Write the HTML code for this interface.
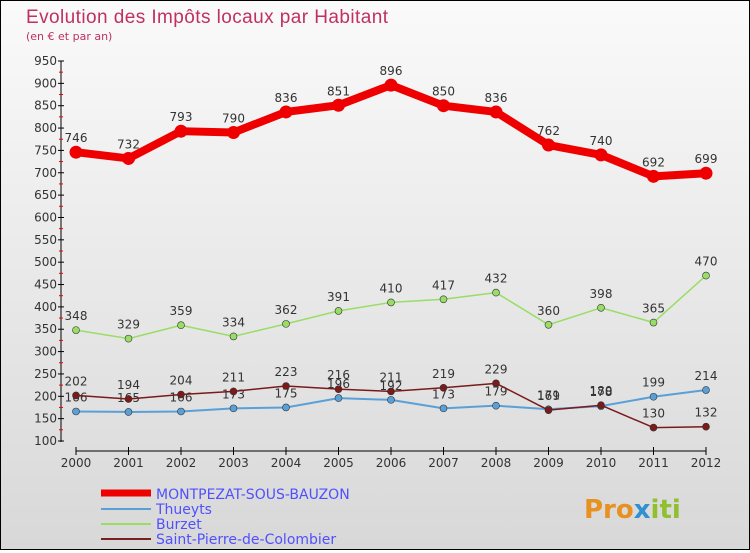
<!DOCTYPE html>
<html><head><meta charset="utf-8"><style>
html,body{margin:0;padding:0}
body{width:750px;height:550px;overflow:hidden;font-family:"DejaVu Sans","Liberation Sans",sans-serif}
#wrap{position:relative;width:748px;height:548px;border:1px solid #000;background:linear-gradient(#fafafa,#d8d8d8)}
</style></head><body>
<div id="wrap">
<svg id="chart" width="748" height="548" xmlns="http://www.w3.org/2000/svg">
<text x="25" y="22" font-size="19" fill="#c03060" font-family="Liberation Sans" textLength="362">Evolution des Impôts locaux par Habitant</text>
<text x="25" y="39" font-size="11" fill="#c03060">(en € et par an)</text>
<g id="axes"></g><g id="series"></g>
<g font-size="14" fill="#5050ff">
<line x1="100" y1="492" x2="150" y2="492" stroke="#ee0000" stroke-width="7"/>
<text x="155" y="498">MONTPEZAT-SOUS-BAUZON</text>
<line x1="100" y1="508" x2="150" y2="508" stroke="#5aa0d8" stroke-width="2"/>
<text x="155" y="513">Thueyts</text>
<line x1="100" y1="523" x2="150" y2="523" stroke="#99dd66" stroke-width="2"/>
<text x="155" y="528">Burzet</text>
<line x1="100" y1="538" x2="150" y2="538" stroke="#7a2020" stroke-width="2"/>
<text x="155" y="543">Saint-Pierre-de-Colombier</text>
</g>
<text x="583" y="517" font-size="26" font-weight="bold" fill="#e89020">Pro<tspan fill="#3090d0">x</tspan><tspan fill="#90c030">iti</tspan></text>
</svg></div>
<script>
const years=[2000,2001,2002,2003,2004,2005,2006,2007,2008,2009,2010,2011,2012];
const yTicks=[100,150,200,250,300,350,400,450,500,550,600,650,700,750,800,850,900,950];
const montpezat=[746,732,793,790,836,851,896,850,836,762,740,692,699];
const thueyts=[166,165,166,173,175,196,192,173,179,171,178,199,214];
const burzet=[348,329,359,334,362,391,410,417,432,360,398,365,470];
const stpierre=[202,194,204,211,223,216,211,219,229,169,180,130,132];
const NS="http://www.w3.org/2000/svg";
const xs=i=>75+i*(705-75)/(years.length-1);
const ys=v=>440-(v-100)*(440-60)/850;
function mk(tag,attrs,parent){const e=document.createElementNS(NS,tag);for(const k in attrs)e.setAttribute(k,attrs[k]);parent.appendChild(e);return e;}
const ax=document.getElementById('axes');
let l=mk('line',{x1:60,y1:60,x2:60,y2:441,stroke:'#000'},ax);


yTicks.forEach(v=>{
 const y=ys(v);
 const t=mk('line',{x1:57,y1:y,x2:63,y2:y,stroke:'#000'},ax);
 
 
 const m=mk('line',{x1:58,y1:y-11.2,x2:62,y2:y-11.2,stroke:'#e00'},ax);
 if(v===950)m.remove();
 
 
 const tx=mk('text',{x:56,y:y+4,'text-anchor':'end','font-size':12,fill:'#333'},ax);
 tx.textContent=v;
 
 
});
l=mk('line',{x1:75,y1:450,x2:705,y2:450,stroke:'#000'},ax);


years.forEach((yr,i)=>{
 const x=xs(i);
 const t=mk('line',{x1:x,y1:446,x2:x,y2:454,stroke:'#000'},ax);
 
 
 const tx=mk('text',{x:x,y:466,'text-anchor':'middle','font-size':12,fill:'#333'},ax);
 tx.textContent=yr;
 
 
});
const sg=document.getElementById('series');
function series(vals,name,color,w,r){
 const g=mk('g',{},sg);
 
 
 const p=mk('polyline',{points:vals.map((v,i)=>xs(i)+','+ys(v)).join(' '),fill:'none',stroke:color,'stroke-width':w,'stroke-linejoin':'round'},g);
 
 
 vals.forEach((v,i)=>{
  const c=mk('circle',{cx:xs(i),cy:ys(v),r:r,fill:color,stroke:w>3?'none':'#333','stroke-width':0.6},g);
  
  
  const t=mk('text',{x:xs(i),y:ys(v)-10,'text-anchor':'middle','font-size':12,fill:'#333'},g);
  t.textContent=v;
  
  
 });
}
series(thueyts,'thueyts','#5aa0d8',2,3.5);
series(stpierre,'saint-pierre','#7a1a1a',1.5,3.5);
series(burzet,'burzet','#99dd66',1.5,3.5);
series(montpezat,'montpezat','#ee0000',8,6.5);
</script>
</body></html>
